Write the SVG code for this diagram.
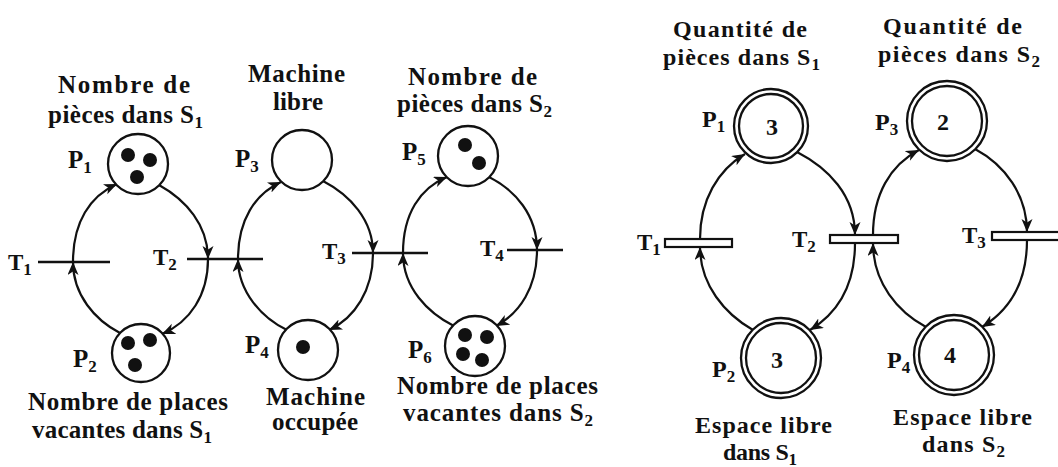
<svg xmlns="http://www.w3.org/2000/svg" width="1058" height="467" viewBox="0 0 1058 467">
<style>
.t{font-family:"Liberation Serif","Times New Roman",serif;font-weight:bold;font-size:25px;fill:#111}
.s{font-size:17px}
.n{font-family:"Liberation Serif","Times New Roman",serif;font-weight:bold;font-size:24px;fill:#111;text-anchor:middle}
.pl{fill:#fff;stroke:#111;stroke-width:2.3}
.tk{fill:#111}
.tr{stroke:#111;stroke-width:2.4;fill:none}
.box{fill:#fff;stroke:#111;stroke-width:2.2}
.arc{fill:none;stroke:#111;stroke-width:2.2;marker-end:url(#ah)}
</style>
<defs>
<marker id="ah" markerUnits="userSpaceOnUse" markerWidth="15" markerHeight="12" refX="13" refY="5.5" orient="auto">
<path d="M0,0 L13,5.5 L0,11 L3.5,5.5 z" fill="#111"/>
</marker>
</defs>
<rect width="1058" height="467" fill="#fff"/>

<g id="connectors">
<path class="arc" d="M73,262 C73,222 90,196 117,184"/>
<path class="arc" d="M159,185 C186,200 208,225 208,259"/>
<path class="arc" d="M208,259 C208,295 190,322 162,334"/>
<path class="arc" d="M120,333 C95,320 73,295 73,262"/>
<path class="arc" d="M238,259 C238,220 255,194 281,182"/>
<path class="arc" d="M323,181 C350,195 373,220 373,253"/>
<path class="arc" d="M373,253 C373,290 355,318 329,330"/>
<path class="arc" d="M287,330 C262,318 238,292 238,259"/>
<path class="arc" d="M403,253 C403,214 420,188 447,177"/>
<path class="arc" d="M489,177 C515,190 537,215 537,250"/>
<path class="arc" d="M537,250 C537,287 520,313 496,326"/>
<path class="arc" d="M454,326 C428,313 403,288 403,253"/>
<path class="arc" d="M700,239 C700,200 718,170 745,154"/>
<path class="arc" d="M797,152 C828,168 855,195 855,235"/>
<path class="arc" d="M855,243 C855,285 838,313 810,330"/>
<path class="arc" d="M753,330 C725,314 700,285 700,247"/>
<path class="arc" d="M873,235 C873,195 890,165 919,150"/>
<path class="arc" d="M975,149 C1005,165 1027,195 1027,232"/>
<path class="arc" d="M1027,240 C1027,282 1010,310 982,327"/>
<path class="arc" d="M926,327 C898,312 873,283 873,243"/>
</g>

<g id="L_P1">
<circle class="pl" cx="138" cy="164" r="30"/>
<circle class="tk" cx="128" cy="155" r="7"/><circle class="tk" cx="150" cy="160" r="7"/><circle class="tk" cx="137" cy="177" r="7"/>
<text class="t" x="68" y="168">P<tspan class="s" dy="5">1</tspan></text>
<text class="t" x="58" y="93" textLength="132">Nombre de</text>
<text class="t" x="48" y="123" textLength="155">pièces dans S<tspan class="s" dy="5">1</tspan></text>
</g>
<g id="L_P2">
<circle class="pl" cx="141" cy="353" r="29"/>
<circle class="tk" cx="128" cy="343" r="7"/><circle class="tk" cx="150" cy="340" r="7"/><circle class="tk" cx="135" cy="365" r="7"/>
<text class="t" x="73" y="367">P<tspan class="s" dy="5">2</tspan></text>
<text class="t" x="28" y="410" textLength="200">Nombre de places</text>
<text class="t" x="32" y="438" textLength="180">vacantes  dans S<tspan class="s" dy="5">1</tspan></text>
</g>
<g id="L_P3">
<circle class="pl" cx="302" cy="160" r="30"/>
<text class="t" x="235" y="167">P<tspan class="s" dy="5">3</tspan></text>
<text class="t" x="248" y="82" textLength="97">Machine</text>
<text class="t" x="273" y="110" textLength="50">libre</text>
</g>
<g id="L_P4">
<circle class="pl" cx="308" cy="350" r="30"/>
<circle class="tk" cx="303" cy="347" r="7"/>
<text class="t" x="245" y="353">P<tspan class="s" dy="5">4</tspan></text>
<text class="t" x="266" y="405" textLength="99">Machine</text>
<text class="t" x="272" y="430" textLength="86">occupée</text>
</g>
<g id="L_P5">
<circle class="pl" cx="468" cy="156" r="30"/>
<circle class="tk" cx="465" cy="145" r="7"/><circle class="tk" cx="479" cy="163" r="7"/>
<text class="t" x="402" y="160">P<tspan class="s" dy="5">5</tspan></text>
<text class="t" x="408" y="85" textLength="129">Nombre de</text>
<text class="t" x="397" y="112" textLength="155">pièces dans S<tspan class="s" dy="5">2</tspan></text>
</g>
<g id="L_P6">
<circle class="pl" cx="475" cy="346" r="30"/>
<circle class="tk" cx="465" cy="335" r="7"/><circle class="tk" cx="487" cy="337" r="7"/><circle class="tk" cx="463" cy="354" r="7"/><circle class="tk" cx="482" cy="360" r="7"/>
<text class="t" x="408" y="358">P<tspan class="s" dy="5">6</tspan></text>
<text class="t" x="397" y="394" textLength="201">Nombre de places</text>
<text class="t" x="403" y="421" textLength="190">vacantes  dans S<tspan class="s" dy="5">2</tspan></text>
</g>
<g id="L_T1">
<path class="tr" d="M38,262 H110"/>
<text class="t" x="8" y="270" style="font-size:23px">T<tspan class="s" dy="5">1</tspan></text>
</g>
<g id="L_T2">
<path class="tr" d="M187,259 H263"/>
<text class="t" x="153" y="265" style="font-size:23px">T<tspan class="s" dy="5">2</tspan></text>
</g>
<g id="L_T3">
<path class="tr" d="M352,253 H428"/>
<text class="t" x="322" y="259" style="font-size:23px">T<tspan class="s" dy="5">3</tspan></text>
</g>
<g id="L_T4">
<path class="tr" d="M507,250 H563"/>
<text class="t" x="480" y="256" style="font-size:23px">T<tspan class="s" dy="5">4</tspan></text>
</g>

<g id="R_P1">
<circle class="pl" cx="771" cy="126" r="37"/>
<circle class="pl" cx="771" cy="126" r="32"/>
<text class="n" x="772" y="135">3</text>
<text class="t" x="702" y="127" style="font-size:24px">P<tspan class="s" dy="5">1</tspan></text>
<text class="t" x="673" y="37" textLength="134" style="font-size:24px">Quantité de</text>
<text class="t" x="663" y="65" textLength="157" style="font-size:24px">pièces dans S<tspan class="s" dy="5">1</tspan></text>
</g>
<g id="R_P2">
<circle class="pl" cx="781" cy="358" r="40"/>
<circle class="pl" cx="781" cy="358" r="35"/>
<text class="n" x="777" y="368">3</text>
<text class="t" x="712" y="377" style="font-size:24px">P<tspan class="s" dy="5">2</tspan></text>
<text class="t" x="695" y="433" textLength="137" style="font-size:24px">Espace libre</text>
<text class="t" x="723" y="460" textLength="74" style="font-size:24px">dans S<tspan class="s" dy="5">1</tspan></text>
</g>
<g id="R_P3">
<circle class="pl" cx="947" cy="121" r="40"/>
<circle class="pl" cx="947" cy="121" r="35"/>
<text class="n" x="943" y="130">2</text>
<text class="t" x="875" y="130" style="font-size:24px">P<tspan class="s" dy="5">3</tspan></text>
<text class="t" x="883" y="34" textLength="139" style="font-size:24px">Quantité de</text>
<text class="t" x="878" y="62" textLength="162" style="font-size:24px">pièces dans S<tspan class="s" dy="5">2</tspan></text>
</g>
<g id="R_P4">
<circle class="pl" cx="954" cy="355" r="40"/>
<circle class="pl" cx="954" cy="355" r="35"/>
<text class="n" x="950" y="363">4</text>
<text class="t" x="887" y="368" style="font-size:24px">P<tspan class="s" dy="5">4</tspan></text>
<text class="t" x="893" y="425" textLength="139" style="font-size:24px">Espace libre</text>
<text class="t" x="922" y="452" textLength="83" style="font-size:24px">dans S<tspan class="s" dy="5">2</tspan></text>
</g>
<g id="R_T1">
<rect class="box" x="665" y="239" width="67" height="8"/>
<text class="t" x="637" y="250" style="font-size:23px">T<tspan class="s" dy="5">1</tspan></text>
</g>
<g id="R_T2">
<rect class="box" x="830" y="235" width="68" height="8"/>
<text class="t" x="792" y="247" style="font-size:23px">T<tspan class="s" dy="5">2</tspan></text>
</g>
<g id="R_T3">
<rect class="box" x="992" y="232" width="72" height="8"/>
<text class="t" x="962" y="243" style="font-size:23px">T<tspan class="s" dy="5">3</tspan></text>
</g>
</svg>
